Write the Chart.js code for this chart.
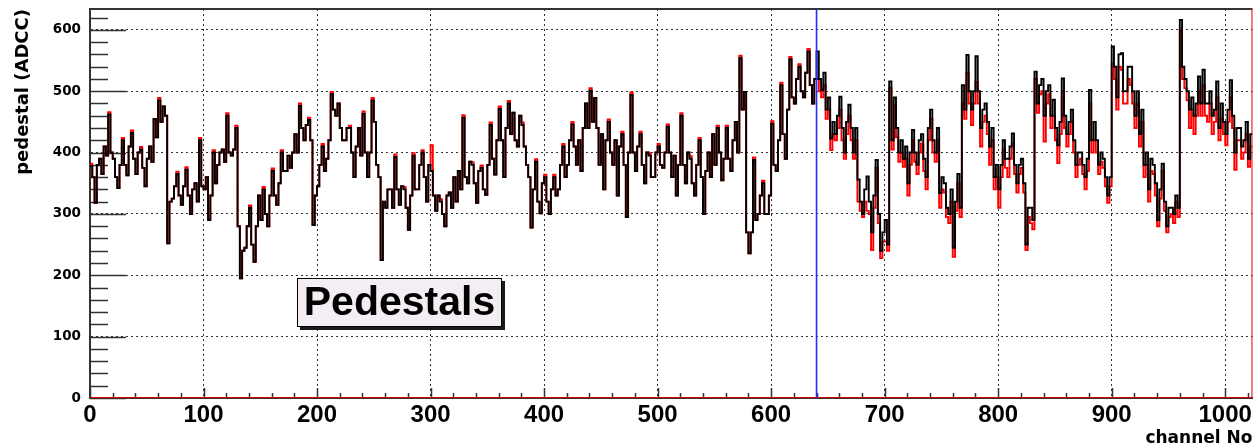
<!DOCTYPE html>
<html><head><meta charset="utf-8">
<script src="https://cdn.jsdelivr.net/npm/chart.js@4.4.0/dist/chart.umd.min.js"></script>
<style>html,body{margin:0;padding:0;background:#fff;}canvas{display:block;}</style>
</head><body>
<canvas id="c" width="1257" height="447"></canvas>
<script>
// ---- data: per 4-channel bin, value in first half (A) and second half (B) ----
const channelsPerBin = 4;
const nChannels = 1024;
const blackA = [
378,318,390,410,462,390,342,420,363,432,
365,405,345,410,455,485,475,252,325,365,
315,372,300,350,420,340,290,400,380,405,
460,395,440,195,245,310,222,330,340,280,
370,315,400,370,375,430,476,420,453,282,
345,410,390,495,460,440,420,440,360,440,
463,360,485,380,225,310,340,393,315,340,
274,395,340,400,320,370,305,320,280,335,
360,370,457,350,380,318,375,331,445,364,
471,360,480,465,410,445,380,278,385,301,
360,300,360,340,410,380,446,380,370,480,
501,489,380,340,450,380,330,430,295,494,
370,430,350,395,360,410,375,442,360,330,
460,350,390,330,420,300,400,430,440,355,
440,370,450,554,499,236,388,300,350,300,
447,370,510,390,552,480,540,490,565,480,
565,502,470,423,430,491,400,478,400,356,
300,361,270,388,240,290,516,490,400,390,
350,437,380,430,360,470,400,334,350,300,
245,365,510,559,470,557,440,480,410,360,
340,420,390,431,350,390,250,310,532,510,
460,510,486,412,521,430,470,380,400,360,
502,450,380,390,330,573,490,562,500,540,
460,430,380,340,380,290,382,280,310,330,
616,520,470,460,524,535,480,460,516,480,
430,518,400,440,420,390];
const blackB = [
360,380,365,395,400,360,380,380,410,390,
400,375,390,385,425,450,460,320,345,330,
345,330,340,320,345,360,330,350,400,385,
400,405,280,240,280,250,280,290,300,330,
330,350,370,395,400,400,440,445,420,330,
380,370,420,470,480,420,440,400,410,395,
400,400,450,360,320,340,310,340,345,310,
330,340,380,360,380,330,330,300,330,310,
320,340,360,385,350,370,340,380,390,420,
420,440,430,420,460,410,360,340,320,350,
320,340,330,380,360,420,410,420,440,440,
450,440,430,420,400,420,410,380,400,400,
410,380,400,360,400,380,400,400,395,380,
380,400,350,380,360,370,360,380,400,390,
390,420,400,470,270,270,290,330,300,330,
380,420,430,470,490,520,500,530,510,520,
520,530,490,450,460,440,450,440,440,320,
340,320,330,300,270,250,420,440,420,410,
400,400,420,390,440,420,440,360,310,340,
320,310,470,500,500,500,470,450,440,380,
380,390,410,380,380,350,310,290,480,520,
500,460,440,450,460,450,420,400,380,390,
420,420,400,360,360,540,560,500,540,500,
500,470,400,390,350,340,320,310,300,310,
540,500,490,480,480,480,500,470,440,450,
470,460,440,410,450,430];
const redA = [
382,318,390,410,466,390,342,424,363,436,
365,409,345,410,455,489,475,252,325,369,
315,376,300,350,424,340,290,404,380,405,
464,395,444,195,245,314,222,330,344,280,
374,315,404,370,375,430,480,420,457,282,
345,414,390,499,460,440,420,444,360,440,
467,360,489,380,225,310,340,397,315,344,
274,399,340,404,320,412,305,324,280,335,
360,370,461,350,384,318,379,331,449,364,
475,360,484,465,410,449,380,278,389,301,
364,300,364,340,414,380,450,380,370,480,
505,489,380,340,454,380,330,434,295,498,
370,434,350,399,360,414,375,446,360,330,
464,350,394,330,424,300,400,430,444,355,
444,370,450,558,499,236,392,300,354,300,
451,370,514,390,556,480,544,490,569,480,
520,490,455,404,420,470,390,460,390,320,
295,305,241,375,228,255,505,478,385,377,
330,420,365,415,340,455,385,310,335,285,
230,350,480,530,445,515,410,460,380,340,
310,405,360,415,335,375,241,285,520,495,
418,495,460,383,500,410,450,360,390,340,
480,420,365,375,318,545,470,535,480,510,
440,410,360,320,365,280,370,270,300,320,
600,505,440,430,500,510,450,430,490,455,
412,490,372,420,400,377];
const redB = [
360,380,365,395,400,360,380,380,410,390,
400,375,390,385,425,450,460,320,345,330,
345,330,340,320,345,360,330,350,400,385,
400,405,280,240,280,250,280,290,300,330,
330,350,370,395,400,400,440,445,420,330,
380,370,420,470,480,420,440,400,410,395,
400,400,450,360,320,340,310,340,345,310,
330,340,380,360,380,330,330,300,330,310,
320,340,360,385,350,370,340,380,390,420,
420,440,430,420,460,410,360,340,320,350,
320,340,330,380,360,420,410,420,440,440,
450,440,430,420,400,420,410,380,400,400,
410,380,400,360,400,380,400,400,395,380,
380,400,350,380,360,370,360,380,400,390,
390,420,400,470,270,270,290,330,300,330,
380,420,430,470,490,520,500,530,510,520,
500,510,470,430,440,420,430,420,420,305,
320,300,310,285,255,240,405,425,400,390,
380,385,400,370,420,400,420,340,295,320,
305,295,455,480,480,480,450,430,420,360,
360,375,390,365,365,335,295,275,465,500,
480,440,420,430,440,430,400,380,365,370,
400,400,385,345,345,520,540,480,520,480,
480,450,380,370,330,325,305,295,285,295,
520,485,470,460,460,460,480,450,420,430,
450,440,420,390,430,410];
const redOutlineX = [0, 1024, 1024];
const redOutlineY = [0, 0, 634];
const markerX = [640, 640];
const markerY = [0, 634];
const yMax = 634;
const xTickValues = [0,100,200,300,400,500,600,700,800,900,1000];
const xTickLabels = ['0','100','200','300','400','500','600','700','800','900','1000'];
const yTickValues = [0,100,200,300,400,500,600];
const yTickLabels = ['0','100','200','300','400','500','600'];
const xTitle = 'channel No';
const yTitle = 'pedestal (ADCC)';
const boxText = 'Pedestals';
const boxRange = {x0: 182, x1: 363, y0: 116, y1: 196};

function stepPoints(a, b) {
  const half = channelsPerBin / 2;
  const pts = [];
  a.forEach((v, i) => {
    pts.push({x: i * channelsPerBin, y: v});
    pts.push({x: i * channelsPerBin + half, y: b[i]});
  });
  pts.push({x: nChannels, y: b[b.length - 1]});
  return pts;
}
function pairPoints(xs, ys) { return xs.map((x, i) => ({x: x, y: ys[i]})); }

const rootStyle = {
  id: 'rootStyle',
  beforeDatasetsDraw(chart) {
    const {ctx, chartArea: a, scales: {x, y}} = chart;
    ctx.save();
    ctx.strokeStyle = '#333';
    ctx.lineWidth = 1.5;
    ctx.beginPath();
    for (let v = 0; v <= yMax; v += 20) {
      const py = Math.round(y.getPixelForValue(v)) + 0.5;
      const len = v % 100 === 0 ? 36 : 18;
      ctx.moveTo(a.left, py); ctx.lineTo(a.left + len, py);
    }
    for (let v = 0; v <= nChannels; v += 20) {
      const px = Math.round(x.getPixelForValue(v)) + 0.5;
      const len = v % 100 === 0 ? 10 : 5;
      ctx.moveTo(px, a.bottom); ctx.lineTo(px, a.bottom - len);
    }
    ctx.stroke();
    ctx.lineWidth = 2;
    ctx.beginPath();
    ctx.moveTo(a.left, a.top); ctx.lineTo(a.right, a.top);
    ctx.stroke();
    ctx.restore();
  },
  afterDatasetsDraw(chart) {
    const {ctx, scales: {x, y}} = chart;
    const bx0 = Math.round(x.getPixelForValue(boxRange.x0));
    const bx1 = Math.round(x.getPixelForValue(boxRange.x1));
    const by0 = Math.round(y.getPixelForValue(boxRange.y1));
    const by1 = Math.round(y.getPixelForValue(boxRange.y0));
    const w = bx1 - bx0, h = by1 - by0;
    ctx.save();
    ctx.fillStyle = '#1a1a1a';
    ctx.fillRect(bx0 + 3, by0 + 3, w, h);
    ctx.fillStyle = '#f4eef4';
    ctx.fillRect(bx0, by0, w, h);
    ctx.strokeStyle = '#000';
    ctx.lineWidth = 1;
    ctx.strokeRect(bx0 + 0.5, by0 + 0.5, w - 1, h - 1);
    ctx.fillStyle = '#000';
    ctx.font = 'bold 41px "Liberation Sans", Arial, sans-serif';
    ctx.textAlign = 'center';
    ctx.textBaseline = 'middle';
    ctx.fillText(boxText, bx0 + w / 2, by0 + h / 2 + 1);
    ctx.restore();
  }
};

new Chart(document.getElementById('c'), {
  type: 'line',
  data: {
    datasets: [
      {label: 'marker', data: pairPoints(markerX, markerY), borderColor: '#2a2aff', borderWidth: 1.6, pointRadius: 0, order: -1},
      {label: 'black', data: stepPoints(blackA, blackB), borderColor: '#000000', borderWidth: 1.9, pointRadius: 0, stepped: 'before', order: 0},
      {label: 'red', data: stepPoints(redA, redB), borderColor: '#ff0000', borderWidth: 1.9, pointRadius: 0, stepped: 'before', order: 1},
      {label: 'redOutline', data: pairPoints(redOutlineX, redOutlineY), borderColor: '#e00000', borderWidth: 2, pointRadius: 0, order: 2}
    ]
  },
  options: {
    responsive: false,
    animation: false,
    devicePixelRatio: 1,
    layout: {padding: {top: 9, right: 4, left: 0, bottom: 0}},
    plugins: {legend: {display: false}, tooltip: {enabled: false}},
    scales: {
      x: {
        type: 'linear', min: 0, max: nChannels,
        afterFit(s) { s.height = 49; },
        ticks: {
          stepSize: 100, includeBounds: false, autoSkip: false, maxRotation: 0, padding: 5, color: '#000',
          font: {family: '"Liberation Sans", Arial, sans-serif', size: 24, weight: 'bold', lineHeight: 1},
          callback: (v) => { const i = xTickValues.indexOf(v); return i >= 0 ? xTickLabels[i] : ''; }
        },
        grid: {color: '#333', lineWidth: 1, drawTicks: false},
        border: {display: true, color: '#333', width: 2, dash: [2, 3]},
        title: {display: true, text: xTitle, align: 'end', color: '#000',
          font: {family: '"DejaVu Sans", sans-serif', size: 17, weight: 'bold', lineHeight: 1},
          padding: {top: 0, bottom: 0}}
      },
      y: {
        type: 'linear', min: 0, max: yMax,
        afterFit(s) { s.width = 90; },
        ticks: {
          stepSize: 100, includeBounds: false, autoSkip: false, padding: 0, color: '#000',
          font: {family: '"DejaVu Sans", sans-serif', size: 13.5, weight: 'bold', lineHeight: 1},
          callback: (v) => { const i = yTickValues.indexOf(v); return i >= 0 ? yTickLabels[i] : ''; }
        },
        grid: {color: '#333', lineWidth: 1, drawTicks: true, tickLength: 9, tickColor: 'rgba(0,0,0,0)'},
        border: {display: true, color: '#333', width: 2, dash: [2, 3]},
        title: {display: true, text: yTitle, align: 'end', color: '#000',
          font: {family: '"DejaVu Sans", sans-serif', size: 18, weight: 'bold', lineHeight: 1},
          padding: {top: 14, bottom: 0}}
      }
    }
  },
  plugins: [rootStyle]
});
</script>
</body></html>
